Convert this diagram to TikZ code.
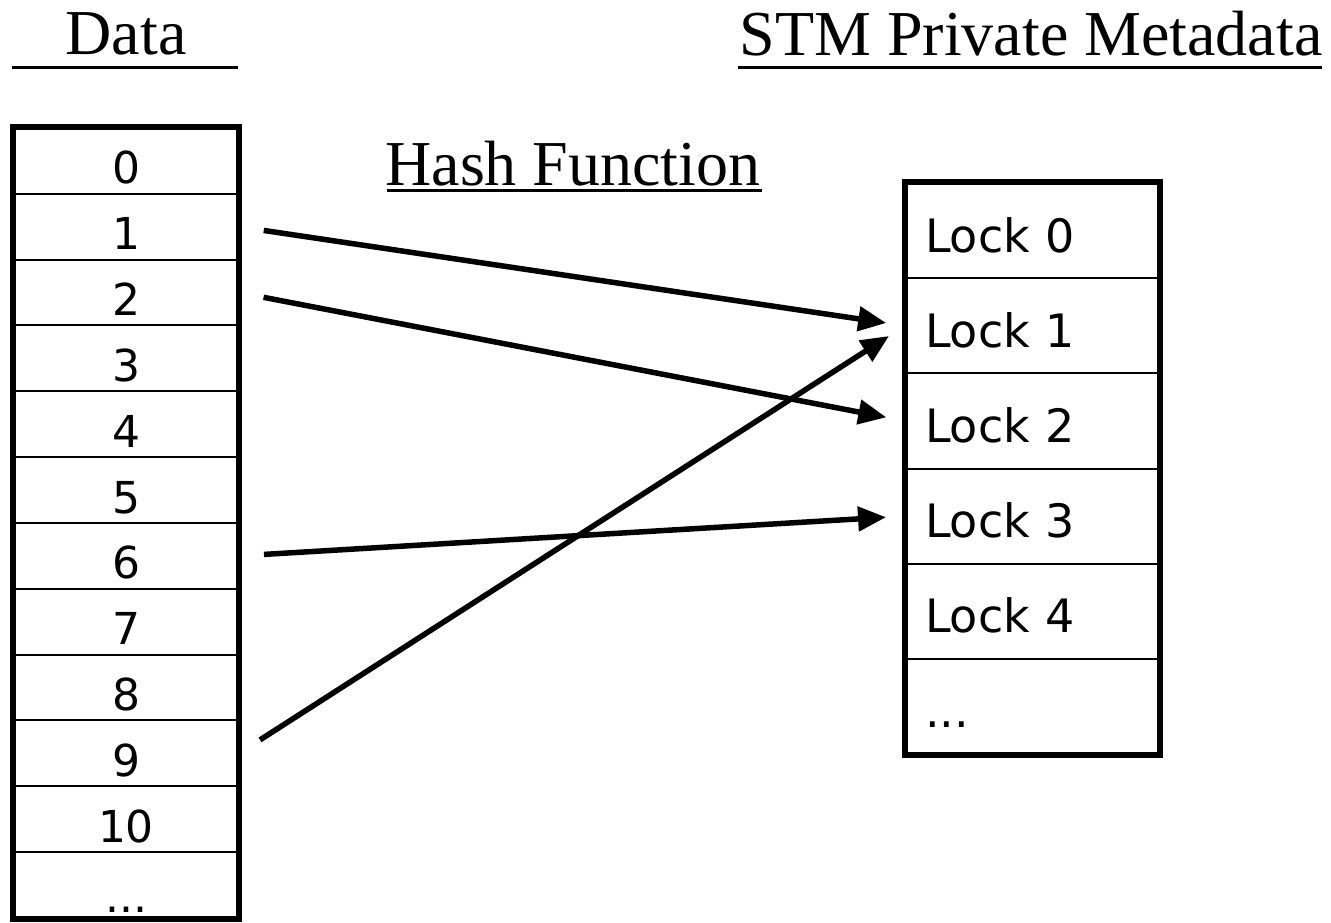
\documentclass[tikz,border=0pt]{standalone}
\usepackage{fontspec}
\setmainfont{Liberation Serif}
\newfontfamily\cellfont{DejaVu Sans}
\usetikzlibrary{arrows.meta}

\begin{document}
\begin{tikzpicture}[x=1pt,y=-1pt,
  title/.style={font=\fontsize{64}{72}\selectfont, inner sep=0pt, anchor=base},
  datacell/.style={draw, line width=2pt, minimum width=224pt, minimum height=65.83pt,
    inner sep=0pt, text height=46pt, text depth=0pt, font=\cellfont\fontsize{44}{50}\selectfont},
  lockcell/.style={draw, line width=2pt, minimum height=95.17pt, text width=215pt,
    inner xsep=19pt, inner ysep=0pt, align=left, text height=43pt, text depth=0pt,
    font=\cellfont\fontsize{46}{52}\selectfont},
  uline/.style={line width=3pt},
  border/.style={line width=5.5pt},
  hash/.style={-{Triangle[length=28pt,width=24pt]}, line width=5.5pt,
    shorten <=25pt, shorten >=19pt}]

\useasboundingbox (0,0) rectangle (1331,922);

% titles
\node[title] (data) at (126,54) {Data};
\node[title] (stm) at (1031,55) {STM Private Metadata};
\node[title] (hashfn) at (573,185) {Hash Function};
\draw[uline] (12,67) -- (238,67);
\draw[uline] (738,67) -- (1322,67);
\draw[uline] (387,190) -- (762,190);

% data words
\foreach \i in {0,...,10}
  \node[datacell] (d\i) at (126,{128+65.83*(\i+0.5)}) {\i};
\node[datacell, text height=54pt] (d11) at (126,{128+65.83*11.5}) {...};
\draw[border] (d0.north west) rectangle (d11.south east);

% lock table
\foreach \i in {0,...,4}
  \node[lockcell] (l\i) at (1032.5,{183+95.17*(\i+0.5)}) {Lock \i};
\node[lockcell] (l5) at (1032.5,{183+95.17*5.5}) {...};
\draw[border] (l0.north west) rectangle (l5.south east);

% hashing
\draw[hash] (d1.east) -- (l1.west);
\draw[hash] (d2.east) -- (l2.west);
\draw[hash] (d6.east) -- (l3.west);
\draw[hash] (d9.east) -- (l1.west);
\end{tikzpicture}
\end{document}
